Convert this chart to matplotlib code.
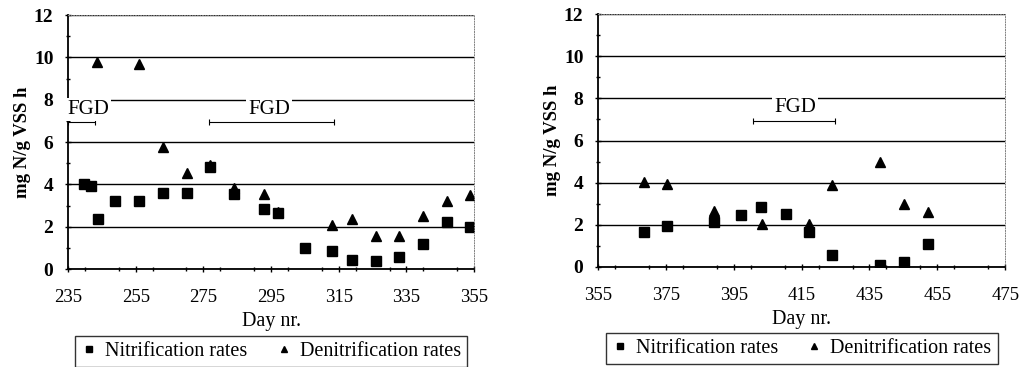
import matplotlib.pyplot as plt
from matplotlib.ticker import MultipleLocator

# Dias e taxas (mg N/g VSS h) - periodo 1
dias_nit_1 = [239.7, 241.9, 244, 248.9, 255.9, 263, 270.1, 276.9, 283.9, 292.9, 297,
              304.9, 312.9, 318.9, 326, 332.9, 340, 346.9, 353.8]
nit_1 = [4.0, 3.9, 2.37, 3.2, 3.2, 3.6, 3.6, 4.84, 3.55, 2.85, 2.64,
         0.99, 0.86, 0.44, 0.36, 0.57, 1.19, 2.2, 1.97]
dias_den_1 = [243.6, 255.9, 263, 270.1, 276.9, 283.9, 292.9, 297, 312.9, 318.9,
              326, 332.9, 340, 346.9, 353.8]
den_1 = [9.8, 9.7, 5.75, 4.55, 4.92, 3.85, 3.55, 2.7, 2.08, 2.35,
         1.57, 1.57, 2.5, 3.2, 3.48]

# periodo 2
dias_nit_2 = [368.5, 375.3, 389.2, 397.2, 403, 410.3, 417.2, 424, 438.2, 445.3, 452.1]
nit_2 = [1.64, 1.94, 2.15, 2.48, 2.87, 2.51, 1.66, 0.57, 0.08, 0.25, 1.09]
dias_den_2 = [368.5, 375.3, 389.2, 403.2, 417.2, 424, 438.2, 445.3, 452.1]
den_2 = [4.05, 3.95, 2.65, 2.05, 2.05, 3.9, 5.0, 3.0, 2.6]

# periodos FGD (inicio, fim)
fgd_1 = [(235, 242.9), (276.6, 313.6)]
fgd_2 = [(400.6, 424.7)]

plt.rcParams['font.family'] = ['Liberation Serif', 'DejaVu Serif']
plt.rcParams['font.size'] = 14


def Painel(ax, dn, n, dd, d, xlim, fgd, txt_x):
  ax.plot(dn, n, 's', color='black', markersize=6.8, label='Nitrification rates')
  ax.plot(dd, d, '^', color='black', markersize=6.8, label='Denitrification rates')
  ax.set_xlim(*xlim)
  ax.set_ylim(0, 12)
  ax.set_xticks(range(xlim[0], xlim[1] + 1, 20))
  ax.xaxis.set_minor_locator(MultipleLocator(10))
  ax.set_yticks(range(0, 13, 2))
  ax.yaxis.set_minor_locator(MultipleLocator(1))
  ax.tick_params(which='both', direction='inout', length=5, width=1)
  ax.tick_params(axis='x', labelsize=13.5, pad=12)
  ax.tick_params(axis='y', labelsize=14, pad=8)
  ax.tick_params(which='minor', length=3)
  for lab in ax.get_yticklabels():
    lab.set_fontweight('bold')
  ax.grid(axis='y', color='black', linewidth=1)
  ax.set_axisbelow(True)
  for s in ['left', 'bottom']:
    ax.spines[s].set_linewidth(1.3)
  for s in ['top', 'right']:
    ax.spines[s].set_color('gray')
    ax.spines[s].set_linewidth(0.7)
    ax.spines[s].set_linestyle(':')
  ax.set_xlabel('Day nr.', fontsize=14.5, labelpad=4)
  ax.set_ylabel('mg N/g VSS h', fontsize=13.5, fontweight='bold', labelpad=2)
  for (a, b) in fgd:
    ax.errorbar([(a + b) / 2], [6.95], xerr=[[(b - a) / 2]], color='black',
                linewidth=0.8, capsize=2, capthick=0.8, fmt='none')
  for tx in txt_x:
    ax.text(tx, 7.55, 'FGD', ha='center', va='center', fontsize=15,
            bbox=dict(facecolor='white', edgecolor='none', pad=1.5))
  leg = ax.legend(loc='upper center', bbox_to_anchor=(0.5, -0.262), ncol=2,
                  fancybox=False, edgecolor='black', fontsize=14.5, handlelength=0.8,
                  handletextpad=0.4, columnspacing=1.4, borderpad=0.3,
                  borderaxespad=0, markerscale=0.7)
  leg.get_frame().set_linewidth(1)


fig = plt.figure(figsize=(10.23, 3.67), dpi=100)
ax1 = fig.add_axes([0.0665, 0.267, 0.397, 0.692])
ax2 = fig.add_axes([0.5846, 0.2725, 0.398, 0.689])

Painel(ax1, dias_nit_1, nit_1, dias_den_1, den_1, (235, 355), fgd_1, [241, 294.5])
Painel(ax2, dias_nit_2, nit_2, dias_den_2, den_2, (355, 475), fgd_2, [413])

fig.savefig('out.png', dpi=100)
plt.close()
